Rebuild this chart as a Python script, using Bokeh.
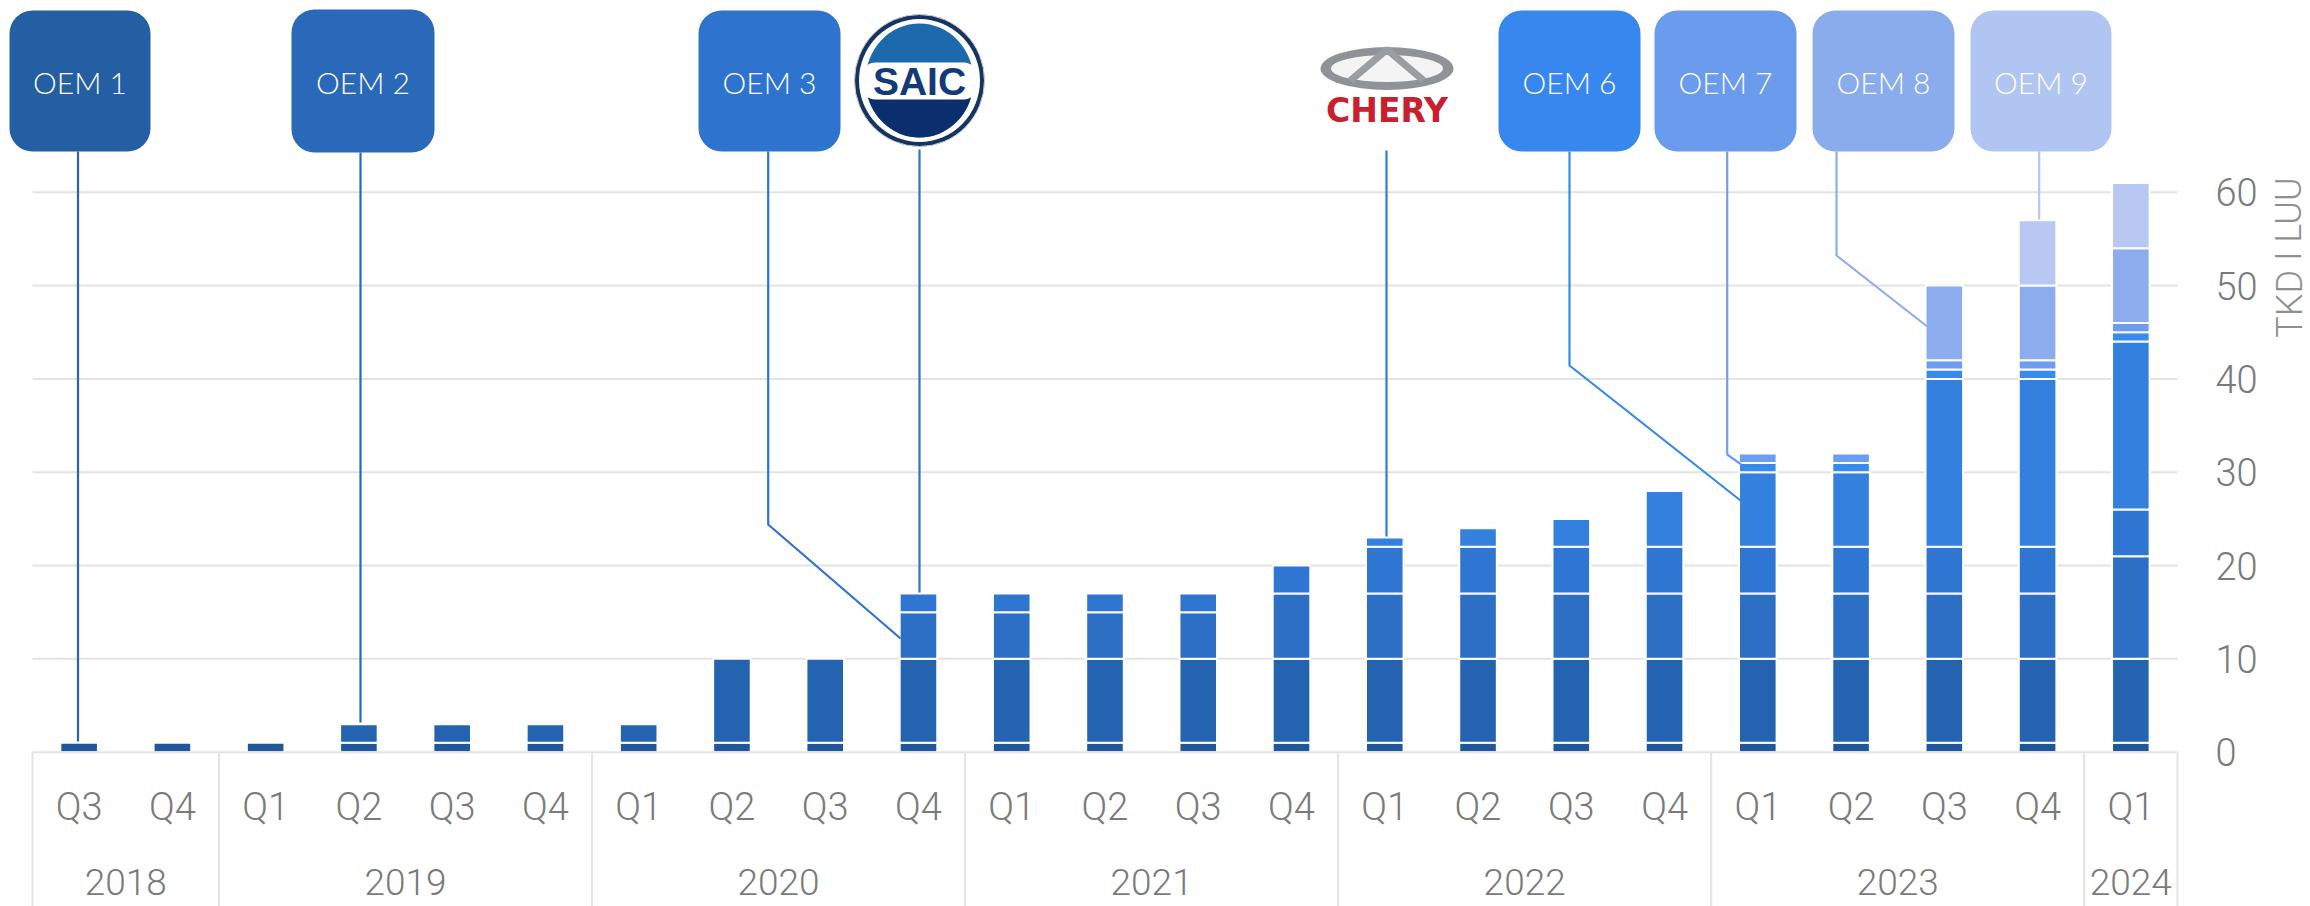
import math

from bokeh.plotting import figure
from bokeh.models import Range1d, LinearAxis, FixedTicker
from bokeh.embed import file_html
from bokeh.resources import INLINE
from bokeh.core.properties import value

# ---------- data ----------
year_labels = ["2018", "2019", "2020", "2021", "2022", "2023", "2024"]
quarter_labels = ["Q3", "Q4",
                  "Q1", "Q2", "Q3", "Q4",
                  "Q1", "Q2", "Q3", "Q4",
                  "Q1", "Q2", "Q3", "Q4",
                  "Q1", "Q2", "Q3", "Q4",
                  "Q1", "Q2", "Q3", "Q4",
                  "Q1"]
year_quarter_counts = [2, 4, 4, 4, 4, 4, 1]
y_ticks = [0, 10, 20, 30, 40, 50, 60]

s1 = [1] * 23
s2 = [0, 0, 0, 2, 2, 2, 2, 9, 9, 9, 9, 9, 9, 9, 9, 9, 9, 9, 9, 9, 9, 9, 9]
s3 = [0, 0, 0, 0, 0, 0, 0, 0, 0, 5, 5, 5, 5, 7, 7, 7, 7, 7, 7, 7, 7, 7, 11]
s4 = [0, 0, 0, 0, 0, 0, 0, 0, 0, 2, 2, 2, 2, 3, 5, 5, 5, 5, 5, 5, 5, 5, 5]
s5 = [0, 0, 0, 0, 0, 0, 0, 0, 0, 0, 0, 0, 0, 0, 1, 2, 3, 6, 8, 8, 18, 18, 18]
s6 = [0, 0, 0, 0, 0, 0, 0, 0, 0, 0, 0, 0, 0, 0, 0, 0, 0, 0, 1, 1, 1, 1, 1]
s7 = [0, 0, 0, 0, 0, 0, 0, 0, 0, 0, 0, 0, 0, 0, 0, 0, 0, 0, 1, 1, 1, 1, 1]
s8 = [0, 0, 0, 0, 0, 0, 0, 0, 0, 0, 0, 0, 0, 0, 0, 0, 0, 0, 0, 0, 8, 8, 8]
s9 = [0, 0, 0, 0, 0, 0, 0, 0, 0, 0, 0, 0, 0, 0, 0, 0, 0, 0, 0, 0, 0, 7, 7]
series = [s1, s2, s3, s4, s5, s6, s7, s8, s9]
series_colors = ["#20569c", "#2463b0", "#2c6fc4", "#2e76d1", "#3480de",
                 "#388aef", "#6c9df0", "#8cacee", "#b8c8f3"]

box_labels = ["OEM 1", "OEM 2", "OEM 3", "OEM 6", "OEM 7", "OEM 8", "OEM 9"]
box_colors = ["#245ea3", "#2a69b9", "#2e74cf", "#3787ee", "#6a9bec", "#8aaced", "#b1c5f2"]
axis_title = "TKD I LUU"

# ---------- layout (page pixels) ----------
W, H = 2310, 906
ORIGIN = 0
PX_PER_X = 93.26
PX_PER_Y = 9.333
X0_PAGE = 32 + PX_PER_X * 0.5   # page x of first bar centre
Y0_PAGE = 751.7                 # page y of value 0


def dx(px):
    return (px - X0_PAGE) / PX_PER_X


def dy(py):
    return (Y0_PAGE - py) / PX_PER_Y


GREY_LINE = "#e3e3e3"
GREY_TEXT = "#7a7a7a"
TICK_FONT = "Roboto Light"
BOX_FONT = "Lato Light"

p = figure(width=W, height=H, output_backend="svg", toolbar_location=None,
           x_axis_type=None, y_axis_type=None, min_border=0,
           x_range=Range1d(dx(ORIGIN), dx(ORIGIN + W)), y_range=Range1d(dy(ORIGIN + H), dy(ORIGIN)),
           outline_line_color=None, background_fill_color="white")
p.grid.visible = False

n = len(quarter_labels)
x_idx = list(range(n))
x_left, x_right = -0.5, n - 0.5

# gridlines
grid_y = [t for t in y_ticks if t != 0]
p.segment(x0=[x_left] * len(grid_y), x1=[x_right] * len(grid_y), y0=grid_y, y1=grid_y,
          line_color=GREY_LINE, line_width=2)

# stacked bars
bottom = [0] * n
for vals, col in zip(series, series_colors):
    xs = [i for i in x_idx if vals[i] > 0]
    bots = [bottom[i] for i in xs]
    tops = [bottom[i] + vals[i] for i in xs]
    p.vbar(x=xs, bottom=bots, top=tops, width=0.403, fill_color=col,
           line_color="white", line_width=2)
    bottom = [b + v for b, v in zip(bottom, vals)]

# baseline and year separators
p.segment(x0=[x_left], x1=[x_right], y0=[0], y1=[0], line_color=GREY_LINE, line_width=2)
seps = [x_left]
centers = []
for c in year_quarter_counts:
    centers.append(seps[-1] + c / 2)
    seps.append(seps[-1] + c)
p.segment(x0=seps, x1=seps, y0=[0] * len(seps), y1=[dy(ORIGIN + H)] * len(seps),
          line_color=GREY_LINE, line_width=2)

# axes placed inside the frame
yax = LinearAxis(ticker=FixedTicker(ticks=y_ticks), fixed_location=x_right,
                 axis_line_color=None, major_tick_line_color=None, minor_tick_line_color=None,
                 major_label_text_font=TICK_FONT, major_label_text_font_size="38px",
                 major_label_text_color=GREY_TEXT, major_label_standoff=32)
p.add_layout(yax, "right")

qax = LinearAxis(ticker=FixedTicker(ticks=x_idx), fixed_location=0,
                 major_label_overrides={i: q for i, q in enumerate(quarter_labels)},
                 axis_line_color=None, major_tick_line_color=None, minor_tick_line_color=None,
                 major_label_text_font=TICK_FONT, major_label_text_font_size="38px",
                 major_label_text_color=GREY_TEXT, major_label_standoff=27)
p.add_layout(qax, "below")

yrax = LinearAxis(ticker=FixedTicker(ticks=centers), fixed_location=0,
                  major_label_overrides={c: y for c, y in zip(centers, year_labels)},
                  axis_line_color=None, major_tick_line_color=None, minor_tick_line_color=None,
                  major_label_text_font=TICK_FONT, major_label_text_font_size="37px",
                  major_label_text_color=GREY_TEXT, major_label_standoff=111)
p.add_layout(yrax, "below")

# callout boxes
box_lr = [(9, 150), (291, 434), (698, 840), (1498, 1640), (1654, 1796), (1812, 1954), (1970, 2111)]
box_tb = [(10, 151), (9, 152), (10, 151), (10, 151), (10, 151), (10, 151), (10, 151)]
p.quad(left=[dx(a) for a, _ in box_lr], right=[dx(b) for _, b in box_lr],
       top=[dy(a) for a, _ in box_tb], bottom=[dy(b) for _, b in box_tb],
       fill_color=box_colors, line_color=None, border_radius=23)
p.text(x=[dx((a + b) / 2) for a, b in box_lr], y=[dy((a + b) / 2 + 1) for a, b in box_tb],
       text=box_labels, text_color="white", text_font=value(BOX_FONT), text_font_size="30px",
       text_align="center", text_baseline="middle")

# leader lines
leaders = [
    ([77.5, 77.5], [151, 741], "#2465b4"),
    ([360, 360], [152, 722], "#2468c0"),
    ([767.7, 767.7, 900], [151, 524, 638], "#2e74cc"),
    ([919, 919], [149, 592], "#2e74cc"),
    ([1386, 1386], [150, 536], "#2f7bd8"),
    ([1569, 1569, 1740], [151, 365, 500], "#3789ea"),
    ([1726.7, 1726.7, 1740.7], [151, 454, 464], "#6f9fee"),
    ([1836, 1836, 1926.7], [151, 255, 326], "#8cadee"),
    ([2038.7, 2038.7], [151, 219], "#b2c6f3"),
]
p.multi_line(xs=[[dx(v) for v in l[0]] for l in leaders],
             ys=[[dy(v) for v in l[1]] for l in leaders],
             line_color=[l[2] for l in leaders], line_width=2.2)

# SAIC logo
sx, sy = dx(919), dy(80)
p.ellipse(x=[sx], y=[sy], width=[130 / PX_PER_X], height=[132 / PX_PER_Y], fill_color="#16345f", line_color="#c9ced6", line_width=1)
p.ellipse(x=[sx], y=[sy], width=[121 / PX_PER_X], height=[123 / PX_PER_Y], fill_color="white", line_color=None)
p.ellipse(x=[sx], y=[sy], width=[108 / PX_PER_X], height=[114 / PX_PER_Y], fill_color="#1c69ad", line_color=None)
arc = [math.pi * k / 40 for k in range(41)]
p.patch(x=[dx(919 + 54 * math.cos(t)) for t in arc], y=[dy(80 + 57 * math.sin(t)) for t in arc],
        fill_color="#0b2f6e", line_color=None)
p.quad(left=[dx(861)], right=[dx(977)], top=[dy(62)], bottom=[dy(99)], fill_color="white", line_color=None, border_radius=14)
p.text(x=[sx], y=[dy(81)], text=["SAIC"], text_color="#123a78", text_font=value("Liberation Sans"),
       text_font_style="bold", text_font_size="39px", text_align="center", text_baseline="middle")

# Chery logo
cx = dx(1386.5)
p.ellipse(x=[cx], y=[dy(68)], width=[133 / PX_PER_X], height=[43 / PX_PER_Y], fill_color="#8f9296", line_color=None)
p.ellipse(x=[cx], y=[dy(68)], width=[112 / PX_PER_X], height=[27 / PX_PER_Y], fill_color="#f4f4f4", line_color=None)
p.multi_line(xs=[[dx(1350), dx(1386.5), dx(1423)]], ys=[[dy(80), dy(49), dy(80)]], line_color="#9a9da1", line_width=7)
p.text(x=[cx], y=[dy(110)], text=["CHERY"], text_color="#c8202f", text_font=value("DejaVu Sans"),
       text_font_style="bold", text_font_size="33px", text_align="center", text_baseline="middle")

# rotated axis title
p.text(x=[dx(2289)], y=[dy(257)], text=[axis_title], angle=1.5708, text_color="#8f8f8f",
       text_font=value(TICK_FONT), text_font_size="36px", text_align="center", text_baseline="middle")

open("out.html", "w").write(file_html(p, INLINE))
